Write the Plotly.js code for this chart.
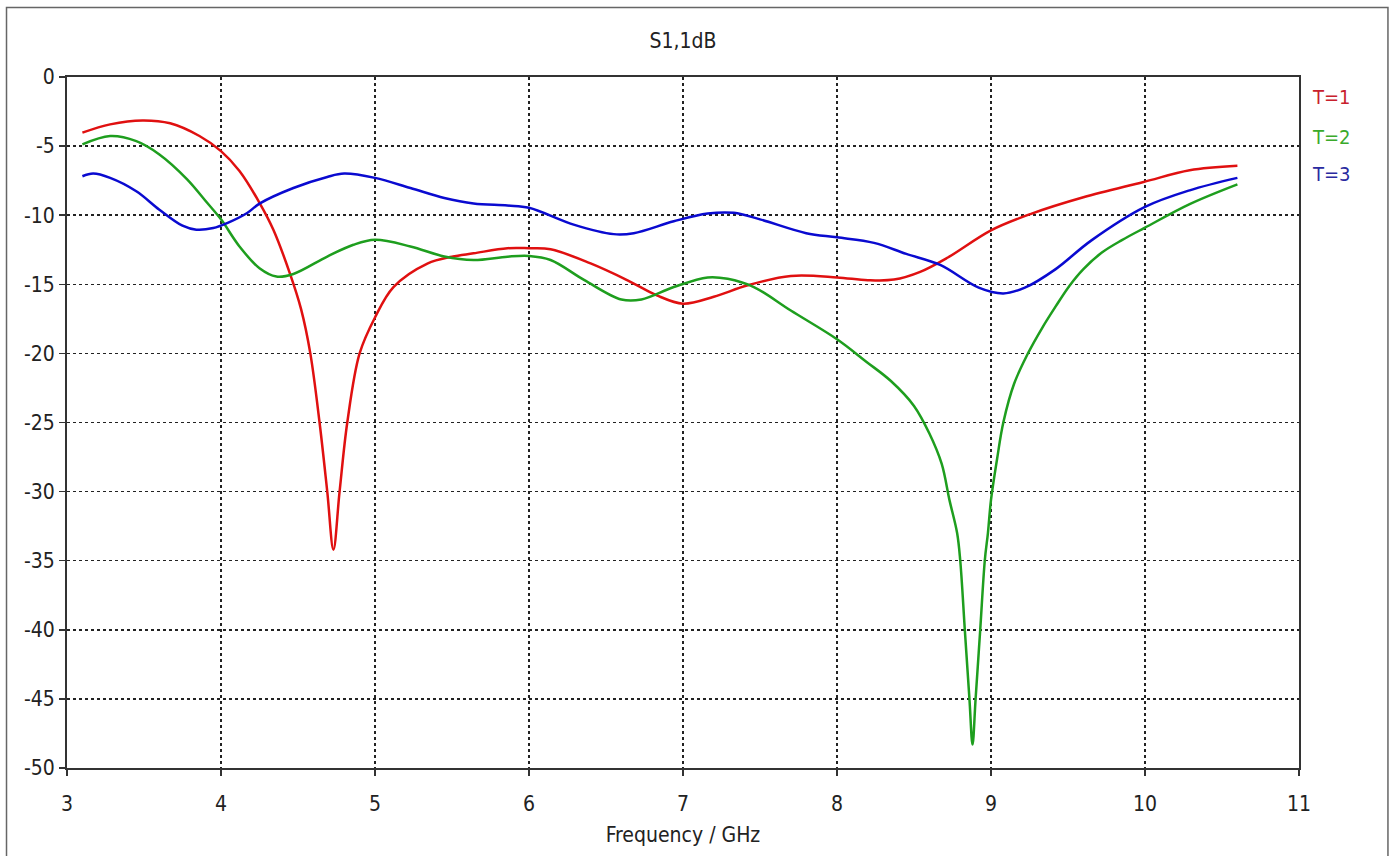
<!DOCTYPE html>
<html>
<head>
<meta charset="utf-8">
<script src="https://cdn.plot.ly/plotly-3.0.1.min.js"></script>
<style>
html,body{margin:0;padding:0;background:#fff;}
#chart{width:1394px;height:856px;}
</style>
</head>
<body>
<div id="chart"></div>
<script>
// Frequency (GHz) and S11 (dB) values
const freqT1 = [3.1,3.28,3.49,3.67,3.86,4.0,4.12,4.25,4.34,4.45,4.52,4.58,4.64,4.69,4.73,4.77,4.82,4.9,5.0,5.12,5.34,5.5,5.64,5.86,6.0,6.14,6.4,6.64,6.83,7.0,7.2,7.42,7.7,8.0,8.2,8.37,8.54,8.72,9.0,9.26,9.6,9.99,10.29,10.6];
const s11T1  = [-4.03,-3.43,-3.14,-3.35,-4.27,-5.36,-6.8,-9.1,-11.05,-14.3,-16.8,-20,-25,-30,-34.2,-30,-25,-20,-17.4,-15.2,-13.5,-13.0,-12.76,-12.39,-12.39,-12.46,-13.49,-14.71,-15.8,-16.4,-15.9,-15.07,-14.4,-14.5,-14.7,-14.66,-14.1,-13.06,-11.1,-9.9,-8.7,-7.6,-6.75,-6.43];

const freqT2 = [3.1,3.28,3.45,3.6,3.78,3.91,4.0,4.12,4.25,4.36,4.47,4.69,4.86,5.0,5.23,5.45,5.64,5.86,6.0,6.14,6.36,6.6,6.73,6.94,7.16,7.29,7.46,7.7,8.0,8.19,8.35,8.5,8.6,8.68,8.73,8.78,8.8,8.83,8.86,8.88,8.9,8.93,8.96,8.98,9.0,9.04,9.08,9.15,9.24,9.33,9.42,9.51,9.6,9.72,9.85,10.0,10.29,10.6];
const s11T2  = [-4.88,-4.27,-4.64,-5.6,-7.4,-9.1,-10.3,-12.26,-13.84,-14.44,-14.25,-12.99,-12.14,-11.78,-12.26,-12.99,-13.24,-13.0,-12.95,-13.24,-14.7,-16.1,-16.1,-15.2,-14.5,-14.6,-15.2,-16.9,-18.98,-20.6,-22.0,-23.8,-25.8,-28.0,-30.6,-33.0,-34.95,-40.0,-45.0,-48.3,-45.0,-40.0,-34.95,-33.0,-30.6,-27.6,-25.0,-22.2,-20.0,-18.2,-16.6,-15.1,-13.9,-12.7,-11.8,-10.9,-9.2,-7.77];

const freqT3 = [3.1,3.17,3.28,3.45,3.6,3.75,3.84,3.95,4.04,4.17,4.25,4.47,4.69,4.8,5.0,5.23,5.45,5.64,5.86,6.0,6.29,6.55,6.68,6.94,7.16,7.33,7.5,7.8,8.0,8.24,8.45,8.67,8.92,9.08,9.22,9.42,9.65,10.0,10.29,10.6];
const s11T3  = [-7.18,-6.99,-7.3,-8.27,-9.6,-10.76,-11.05,-10.93,-10.57,-9.84,-9.16,-8.03,-7.23,-6.99,-7.3,-8.03,-8.75,-9.15,-9.3,-9.46,-10.68,-11.37,-11.3,-10.44,-9.88,-9.83,-10.3,-11.3,-11.6,-12.0,-12.8,-13.6,-15.24,-15.66,-15.24,-13.9,-11.84,-9.4,-8.2,-7.3];

const seriesNames = ["T=1","T=2","T=3"];
const lineColors  = ["#e01010","#1e9e1e","#0a0ad0"];
const labelColors = ["#c8202c","#3aaa2a","#2a2aa0"];
const xTicks = [3,4,5,6,7,8,9,10,11];
const yTicks = [0,-5,-10,-15,-20,-25,-30,-35,-40,-45,-50];

const FONT = "'DejaVu Sans Condensed', 'DejaVu Sans', sans-serif";

const xs = [freqT1, freqT2, freqT3];
const ys = [s11T1, s11T2, s11T3];
const traces = xs.map((x, i) => ({
  x: x, y: ys[i], type: "scatter", mode: "lines", name: seriesNames[i],
  line: {color: lineColors[i], width: 2.5, shape: "spline", smoothing: 1},
  showlegend: false, hoverinfo: "x+y"
}));

const legendY = [0.971, 0.913, 0.860];
const annotations = seriesNames.map((n, i) => ({
  xref: "paper", yref: "paper", x: 1.009, y: legendY[i],
  xanchor: "left", yanchor: "middle", showarrow: false,
  text: n, font: {family: FONT, size: 20, color: labelColors[i]}
}));

const layout = {
  width: 1394, height: 856,
  margin: {l: 67, r: 95, t: 77, b: 88},
  paper_bgcolor: "#ffffff", plot_bgcolor: "#ffffff",
  font: {family: FONT, size: 20, color: "#222"},
  title: {text: "S1,1dB", x: 0.49, xanchor: "center", y: 0.953, yanchor: "middle",
          font: {family: FONT, size: 21, color: "#222"}},
  xaxis: {
    range: [3, 11], tickvals: xTicks, ticktext: xTicks.map(String),
    showgrid: true, gridcolor: "#222", griddash: "3px,3px", gridwidth: 1.5,
    showline: true, linecolor: "#333", linewidth: 2, mirror: true,
    ticks: "outside", ticklen: 6, tickwidth: 1.5, tickcolor: "#333",
    ticklabelstandoff: 10,
    zeroline: false, automargin: false,
    tickfont: {family: FONT, size: 21, color: "#222"},
    title: {text: "Frequency / GHz", standoff: 12, font: {family: FONT, size: 21, color: "#222"}}
  },
  yaxis: {
    range: [-50, 0], tickvals: yTicks, ticktext: yTicks.map(String),
    showgrid: true, gridcolor: "#222", griddash: "3px,3px", gridwidth: 1.5,
    showline: true, linecolor: "#333", linewidth: 2, mirror: true,
    ticks: "outside", ticklen: 6, tickwidth: 1.5, tickcolor: "#333",
    zeroline: false, automargin: false,
    tickfont: {family: FONT, size: 21, color: "#222"}
  },
  annotations: annotations,
  shapes: [{
    type: "rect", xref: "paper", yref: "paper",
    x0: -0.0491, x1: 1.0722, y0: -0.2, y1: 1.1006,
    line: {color: "#666", width: 1.5}, fillcolor: "rgba(0,0,0,0)", layer: "below"
  }]
};

Plotly.newPlot("chart", traces, layout, {displayModeBar: false, staticPlot: true});
</script>
</body>
</html>
